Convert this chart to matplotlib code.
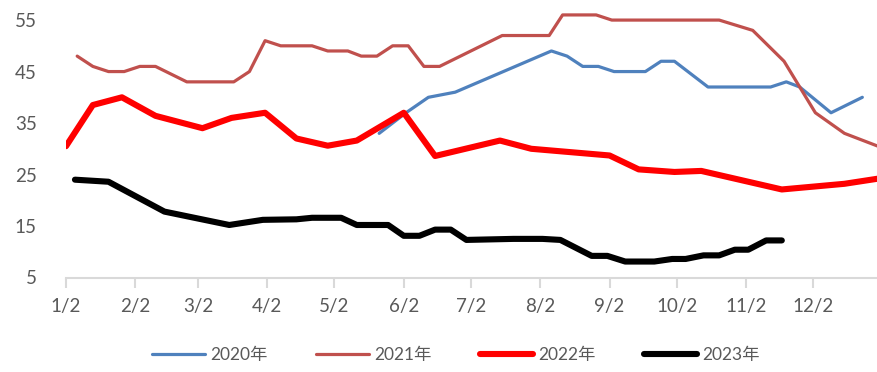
import datetime
import matplotlib
matplotlib.use("Agg")
from matplotlib import pyplot as plt

# weekly values, dates given as month/day
dates_2020 = ["5/22", "6/3", "6/13", "6/25", "8/7", "8/14", "8/21", "8/28", "9/4", "9/18",
              "9/25", "10/1", "10/16", "11/13", "11/20", "11/26", "12/10", "12/24"]
vals_2020 = [33, 37, 40, 41, 49, 48, 46, 46, 45, 45,
             47, 47, 42, 42, 43, 42, 37, 40]

dates_2021 = ["1/7", "1/14", "1/21", "1/28", "2/4", "2/11", "2/25", "3/18", "3/25", "4/1",
              "4/8", "4/22", "4/29", "5/8", "5/14", "5/21", "5/28", "6/4", "6/11", "6/18",
              "7/16", "8/6", "8/12", "8/27", "9/3", "10/21", "11/5", "11/19", "12/3", "12/16", "12/31"]
vals_2021 = [48, 46, 45, 45, 46, 46, 43, 43, 45, 51,
             50, 50, 49, 49, 48, 48, 50, 50, 46, 46,
             52, 52, 56, 56, 55, 55, 53, 47, 37, 33, 30.5]

dates_2022 = ["1/2", "1/14", "1/27", "2/11", "3/4", "3/17", "4/1", "4/15", "4/29", "5/12",
              "6/2", "6/16", "7/15", "7/29", "9/2", "9/15", "10/1", "10/13", "11/18", "12/16", "12/31"]
vals_2022 = [30.5, 38.5, 40, 36.4, 34, 36, 37, 32, 30.6, 31.6,
             37, 28.6, 31.6, 30, 28.7, 26, 25.5, 25.7, 22.1, 23.2, 24.2]

dates_2023 = ["1/6", "1/21", "2/15", "3/16", "3/31", "4/15", "4/22", "5/5", "5/12", "5/26",
              "6/2", "6/9", "6/16", "6/23", "6/30", "7/21", "8/3", "8/11", "8/25", "9/1",
              "9/9", "9/22", "9/30", "10/6", "10/14", "10/21", "10/28", "11/3", "11/11", "11/18"]
vals_2023 = [24, 23.6, 17.8, 15.2, 16.2, 16.3, 16.6, 16.6, 15.2, 15.2,
             13.1, 13.1, 14.3, 14.3, 12.3, 12.5, 12.5, 12.3, 9.2, 9.2,
             8.1, 8.1, 8.6, 8.6, 9.3, 9.3, 10.4, 10.4, 12.2, 12.2]

tick_labels = ["1/2", "2/2", "3/2", "4/2", "5/2", "6/2", "7/2", "8/2", "9/2", "10/2", "11/2", "12/2"]
series_names = ["2020年", "2021年", "2022年", "2023年"]


def day_of(md):
	m, d = md.split("/")
	return (datetime.date(2021, int(m), int(d)) - datetime.date(2021, 1, 2)).days


plt.rcParams['font.family'] = ["Lato", "Noto Sans CJK SC", "DejaVu Sans"]

fig = plt.figure(figsize=(8.78, 3.72), dpi=100)
ax = fig.add_axes([66 / 878, (372 - 277.5) / 372, (878 - 66) / 878, 277.5 / 372])

styles = [
	(dates_2020, vals_2020, "#4F81BD", 2.3),
	(dates_2021, vals_2021, "#C0504D", 2.3),
	(dates_2022, vals_2022, "#FF0000", 4.4),
	(dates_2023, vals_2023, "#000000", 4.4),
]
for (ds, vs, c, lw), name in zip(styles, series_names):
	ax.plot([day_of(d) for d in ds], vs, color=c, lw=lw, label=name,
	        solid_capstyle="round", solid_joinstyle="round")

ax.set_xlim(0, 363)
ax.set_ylim(5, 58.9)
ax.set_yticks(range(5, 56, 10))
ax.set_xticks([day_of(t) for t in tick_labels])
ax.set_xticklabels(tick_labels)

for s in ["top", "right", "left"]:
	ax.spines[s].set_visible(False)
ax.spines["bottom"].set_color("#D9D9D9")
ax.spines["bottom"].set_linewidth(1.5)
ax.tick_params(axis="x", direction="out", length=7, width=1.5, color="#D9D9D9",
               labelcolor="#595959", labelsize=13.5, pad=8)
ax.tick_params(axis="y", length=0, labelcolor="#595959", labelsize=13.5, pad=21)

fig.legend(loc="center", bbox_to_anchor=(456 / 878, 17 / 372), ncol=4, frameon=False,
           fontsize=12.5, handlelength=3.05, columnspacing=2.8, handletextpad=0.3,
           labelcolor="#595959")

fig.savefig("out.png", dpi=100)
plt.close()
